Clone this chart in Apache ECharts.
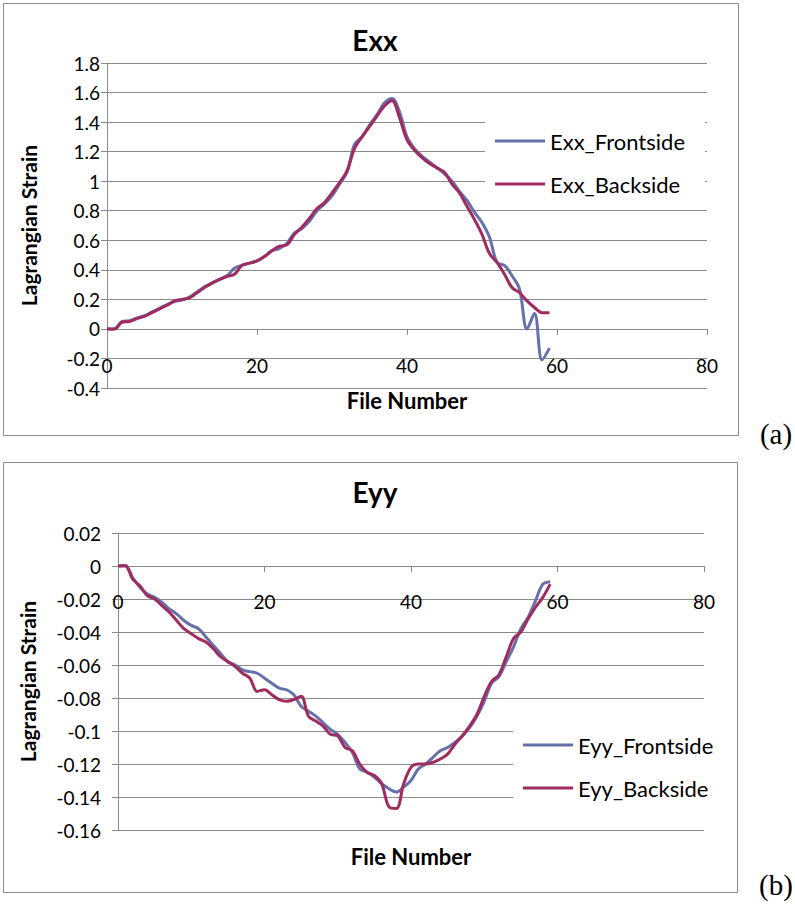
<!DOCTYPE html>
<html>
<head>
<meta charset="utf-8">
<script src="https://cdn.jsdelivr.net/npm/echarts@6/dist/echarts.min.js"></script>
<style>
  html, body { margin: 0; padding: 0; background: #fff; }
  #main { width: 795px; height: 904px; }
</style>
</head>
<body>
<div id="main"></div>
<script>
// file numbers along x
const fileNumber = [0,1,2,3,4,5,6,7,8,9,10,11,12,13,14,15,16,17,18,19,20,21,22,23,24,25,26,27,28,29,
  30,31,32,33,34,35,36,37,38,39,40,41,42,43,44,45,46,47,48,49,50,51,52,53,54,55,56,57,58,59]

// Exx (a)
const exxFront = [0,0,0.05,0.055,0.075,0.09,0.115,0.14,0.165,0.185,0.195,0.215,0.25,0.285,0.31,0.335,0.36,0.41,0.43,0.445,
  0.46,0.49,0.53,0.545,0.58,0.65,0.68,0.73,0.8,0.845,0.9,0.98,1.06,1.25,1.3,1.38,1.45,1.53,1.56,1.47,
  1.3,1.22,1.17,1.13,1.09,1.05,1.0,0.93,0.87,0.79,0.72,0.62,0.45,0.43,0.36,0.27,0.0,0.105,-0.21,-0.13]
const exxBack = [0,0,0.045,0.05,0.07,0.085,0.11,0.135,0.16,0.19,0.2,0.21,0.245,0.28,0.31,0.335,0.355,0.37,0.43,0.445,
  0.46,0.49,0.53,0.56,0.57,0.64,0.69,0.75,0.815,0.855,0.92,0.99,1.07,1.22,1.3,1.37,1.44,1.51,1.545,1.43,
  1.28,1.21,1.16,1.12,1.09,1.06,0.98,0.92,0.83,0.74,0.64,0.51,0.45,0.37,0.28,0.245,0.19,0.145,0.11,0.11]

// Eyy (b)
const eyyFront = [0,0.0005,-0.007,-0.013,-0.017,-0.019,-0.022,-0.026,-0.029,-0.033,-0.036,-0.038,-0.043,-0.048,-0.053,-0.058,-0.06,-0.063,-0.064,-0.065,
  -0.068,-0.071,-0.074,-0.075,-0.078,-0.085,-0.088,-0.091,-0.095,-0.099,-0.102,-0.107,-0.113,-0.123,-0.125,-0.128,-0.132,-0.135,-0.137,-0.134,
  -0.13,-0.123,-0.12,-0.116,-0.112,-0.11,-0.107,-0.103,-0.098,-0.091,-0.082,-0.071,-0.067,-0.058,-0.049,-0.038,-0.031,-0.021,-0.011,-0.0095]
const eyyBack = [0,0,-0.008,-0.012,-0.018,-0.02,-0.024,-0.028,-0.033,-0.038,-0.041,-0.044,-0.046,-0.05,-0.055,-0.058,-0.061,-0.065,-0.068,-0.076,
  -0.075,-0.078,-0.081,-0.082,-0.081,-0.079,-0.091,-0.094,-0.097,-0.102,-0.103,-0.11,-0.112,-0.12,-0.125,-0.127,-0.132,-0.146,-0.147,-0.132,
  -0.122,-0.12,-0.12,-0.119,-0.117,-0.114,-0.108,-0.103,-0.097,-0.09,-0.079,-0.07,-0.066,-0.055,-0.044,-0.04,-0.032,-0.025,-0.019,-0.011]

const xTicks = { min: 0, max: 80, interval: 20 }
const exxTicks = { min: -0.4, max: 1.8, interval: 0.2 }
const eyyTicks = { min: -0.16, max: 0.02, interval: 0.02 }

const FONT = 'Lato'
const GRAY = '#8a8a8a'
const BLUE = '#6670aa'
const RED = '#a02b5f'

const grids = [
  { left: 107, top: 63, width: 600, height: 325 },
  { left: 118, top: 533, width: 586, height: 297 }
]

function pairs(ys) {
  return fileNumber.map((x, i) => [x, ys[i]])
}

// excel puts the horizontal axis where y = 0; move the bottom axis up to that level
function zeroOffset(grid, ticks) {
  return -grid.height * (0 - ticks.min) / (ticks.max - ticks.min)
}

function xAxisFor(idx, yTicks, nameGap, labelMargin) {
  return {
    type: 'value',
    gridIndex: idx,
    ...xTicks,
    position: 'bottom',
    offset: zeroOffset(grids[idx], yTicks),
    name: 'File Number',
    nameLocation: 'middle',
    nameGap: nameGap,
    nameTextStyle: { fontFamily: FONT, fontSize: 22, fontWeight: 'bold', color: '#000' },
    axisLine: { onZero: false, lineStyle: { color: GRAY, width: 1 } },
    axisTick: { show: true, inside: false, length: 6, lineStyle: { color: GRAY } },
    axisLabel: { margin: labelMargin, fontFamily: FONT, fontSize: 19, color: '#000', showMinLabel: true, showMaxLabel: true },
    splitLine: { show: false }
  }
}

function yAxisFor(idx, ticks, nameGap, labelMargin) {
  return {
    type: 'value',
    gridIndex: idx,
    ...ticks,
    name: 'Lagrangian Strain',
    nameLocation: 'middle',
    nameGap: nameGap,
    nameTextStyle: { fontFamily: FONT, fontSize: 21, fontWeight: 'bold', color: '#000' },
    axisLine: { show: true, onZero: false, lineStyle: { color: GRAY, width: 1 } },
    axisTick: { show: true, length: 6, lineStyle: { color: GRAY } },
    axisLabel: { margin: labelMargin, fontFamily: FONT, fontSize: 19, color: '#000', showMinLabel: true, showMaxLabel: true },
    splitLine: { show: true, lineStyle: { color: GRAY, width: 1 } }
  }
}

function lineSeries(name, idx, ys, color) {
  return {
    type: 'line',
    name: name,
    xAxisIndex: idx,
    yAxisIndex: idx,
    data: pairs(ys),
    smooth: 0.35,
    showSymbol: false,
    symbol: 'none',
    lineStyle: { color: color, width: 3 },
    itemStyle: { color: color }
  }
}

const legendText = { fontFamily: FONT, fontSize: 22, color: '#000', lineHeight: 26 }

const option = {
  backgroundColor: '#fff',
  animation: false,
  grid: grids.map(g => ({ ...g, outerBoundsMode: 'none', containLabel: false })),
  xAxis: [xAxisFor(0, exxTicks, 61, 27), xAxisFor(1, eyyTicks, 279, 26)],
  yAxis: [yAxisFor(0, exxTicks, 68, 7), yAxisFor(1, eyyTicks, 80, 17)],
  legend: [
    {
      data: ['Exx_Frontside', 'Exx_Backside'],
      orient: 'vertical',
      left: 485, top: 118,
      padding: [10, 20, 10, 10],
      backgroundColor: '#fff',
      icon: 'rect', itemWidth: 50, itemHeight: 3, itemGap: 17,
      textStyle: legendText
    },
    {
      data: ['Eyy_Frontside', 'Eyy_Backside'],
      orient: 'vertical',
      left: 513, top: 722,
      padding: [10, 20, 10, 10],
      backgroundColor: '#fff',
      icon: 'rect', itemWidth: 50, itemHeight: 3, itemGap: 17,
      textStyle: legendText
    }
  ],
  graphic: [
    { type: 'rect', shape: { x: 3.5, y: 3.5, width: 735, height: 432 }, style: { fill: 'none', stroke: '#8a8a8a', lineWidth: 1 }, z: -1 },
    { type: 'rect', shape: { x: 3.5, y: 462.5, width: 734, height: 430 }, style: { fill: 'none', stroke: '#8a8a8a', lineWidth: 1 }, z: -1 },
    { type: 'text', x: 375, y: 40, style: { text: 'Exx', fontFamily: FONT, fontSize: 28, fontWeight: 'bold', fill: '#000', align: 'center', verticalAlign: 'middle' } },
    { type: 'text', x: 375, y: 492, style: { text: 'Eyy', fontFamily: FONT, fontSize: 28, fontWeight: 'bold', fill: '#000', align: 'center', verticalAlign: 'middle' } },
    { type: 'text', x: 776, y: 434, style: { text: '(a)', fontFamily: 'Liberation Serif', fontSize: 29, fill: '#000', align: 'center', verticalAlign: 'middle' } },
    { type: 'text', x: 776, y: 885, style: { text: '(b)', fontFamily: 'Liberation Serif', fontSize: 29, fill: '#000', align: 'center', verticalAlign: 'middle' } }
  ],
  series: [
    lineSeries('Exx_Frontside', 0, exxFront, BLUE),
    lineSeries('Exx_Backside', 0, exxBack, RED),
    lineSeries('Eyy_Frontside', 1, eyyFront, BLUE),
    lineSeries('Eyy_Backside', 1, eyyBack, RED)
  ]
}

const chart = echarts.init(document.getElementById('main'), null, { renderer: 'svg' })
chart.setOption(option)
</script>
</body>
</html>
